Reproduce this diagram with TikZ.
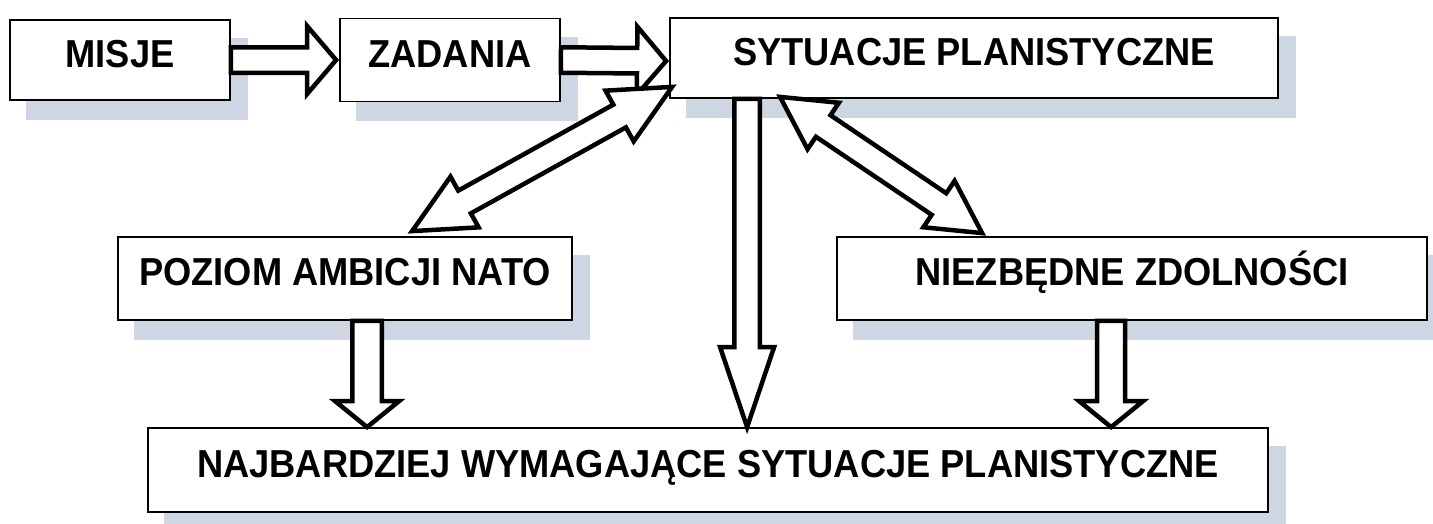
\documentclass[tikz,border=0pt]{standalone}
\usepackage{fontspec}
\setmainfont{Liberation Sans}[FakeStretch=0.93]
\usetikzlibrary{calc,backgrounds}
\definecolor{shadowblue}{RGB}{206,213,227}
\tikzset{
  box/.style={draw=black, line width=1.8pt, fill=white, rectangle, inner sep=0pt,
    font=\fontsize{39}{40}\selectfont\bfseries, text height=28pt, text depth=14pt},
  boxshadow/.style={fill=shadowblue, draw=none},
  blockarrow/.style={draw=black, fill=white, line width=4.5pt, line join=miter, miter limit=10},
}
% single block arrow: start, tip, shaft half width, head half width, head length
\newcommand\singlearrow[5]{%
  \coordinate (ha) at ($(#2)!#5!(#1)$);
  \draw[blockarrow] ($(#1)!#3!90:(#2)$) -- ($(ha)!#3!90:(#2)$) -- ($(ha)!#4!90:(#2)$)
    -- (#2) -- ($(ha)!#4!-90:(#2)$) -- ($(ha)!#3!-90:(#2)$) -- ($(#1)!#3!-90:(#2)$) -- cycle;
}
% double block arrow: tip, tip, shaft half width, head half width, head length
\newcommand\doublearrow[5]{%
  \coordinate (da) at ($(#1)!#5!(#2)$);
  \coordinate (db) at ($(#2)!#5!(#1)$);
  \draw[blockarrow] (#1) -- ($(da)!#4!90:(#2)$) -- ($(da)!#3!90:(#2)$) -- ($(db)!#3!90:(#2)$)
    -- ($(db)!#4!90:(#2)$) -- (#2) -- ($(db)!#4!-90:(#2)$) -- ($(db)!#3!-90:(#2)$)
    -- ($(da)!#3!-90:(#2)$) -- ($(da)!#4!-90:(#2)$) -- cycle;
}
\begin{document}
\begin{tikzpicture}[x=1pt, y=-1pt]
\useasboundingbox (0,0) rectangle (1433,523);

% boxes
\node[box, minimum width=220pt, minimum height=80pt] (misje) at (120,60) {MISJE};
\node[box, minimum width=220pt, minimum height=83pt] (zadania) at (450,60) {ZADANIA};
\node[box, minimum width=608pt, minimum height=80pt] (syt) at (974,58) {SYTUACJE PLANISTYCZNE};
\node[box, minimum width=454pt, minimum height=83pt] (poziom) at (345,278.5) {POZIOM AMBICJI NATO};
\node[box, minimum width=590pt, minimum height=83pt] (niezb) at (1132,278.5) {NIEZBĘDNE ZDOLNOŚCI};
\node[box, minimum width=1120pt, minimum height=84pt] (najb) at (708,470) {NAJBARDZIEJ WYMAGAJĄCE SYTUACJE PLANISTYCZNE};

% drop shadows behind the boxes
\begin{scope}[on background layer]
  \foreach \b in {misje,zadania,syt,poziom,niezb,najb}
    \fill[boxshadow] ($(\b.north west)+(17,19)$) rectangle ($(\b.south east)+(17,19)$);
\end{scope}

% connector end points
\coordinate (h1s) at (misje.east);
\coordinate (h1e) at ($(zadania.west)+(-3,0)$);
\coordinate (h2s) at (zadania.east);
\coordinate (h2e) at ($(zadania.east -| syt.west)+(-3,1)$);
\coordinate (dlA) at ($(poziom.north west)+(295,-5)$);
\coordinate (dlB) at ($(syt.south west)+(3,-12)$);
\coordinate (drA) at ($(syt.south west)+(111,-2)$);
\coordinate (drB) at ($(niezb.north west)+(146,-3)$);
\coordinate (vs) at ($(syt.south west)+(78,0)$);
\coordinate (ve) at (vs |- najb.north);
\coordinate (ps) at ($(poziom.south west)+(250,0)$);
\coordinate (pe) at (ps |- najb.north);
\coordinate (ns) at ($(niezb.south west)+(275,0)$);
\coordinate (ne) at (ns |- najb.north);

% block arrows
\singlearrow{h1s}{h1e}{12.75pt}{34pt}{29pt}
\singlearrow{h2s}{h2e}{12.75pt}{34pt}{29pt}
\doublearrow{dlA}{dlB}{13pt}{29pt}{60pt}
\doublearrow{drA}{drB}{13pt}{28pt}{52pt}
\singlearrow{vs}{ve}{12.75pt}{27pt}{80pt}
\singlearrow{ps}{pe}{14.75pt}{32pt}{26pt}
\singlearrow{ns}{ne}{14pt}{32pt}{26pt}
\end{tikzpicture}
\end{document}
